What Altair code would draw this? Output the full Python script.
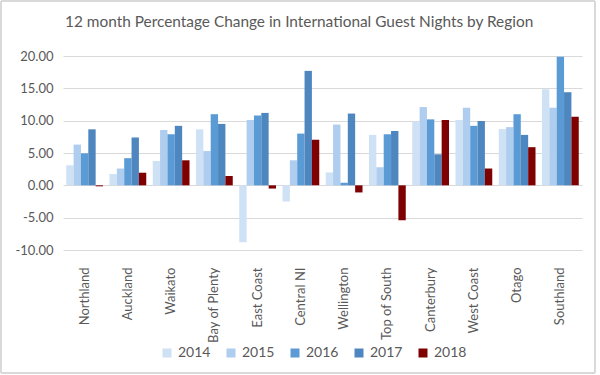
import altair as alt
import pandas as pd

regions = ["Northland", "Auckland", "Waikato", "Bay of Plenty", "East Coast", "Central NI",
           "Wellington", "Top of South", "Canterbury", "West Coast", "Otago", "Southland"]
years = ["2014", "2015", "2016", "2017", "2018"]
v2014 = [3.1, 1.75, 3.76, 8.66, -8.8, -2.5, 2.0, 7.8, 9.85, 10.1, 8.7, 14.85]
v2015 = [6.3, 2.6, 8.56, 5.3, 10.1, 3.87, 9.4, 2.8, 12.1, 12.0, 9.0, 12.0]
v2016 = [4.95, 4.2, 7.9, 11.0, 10.8, 8.0, 0.4, 7.9, 10.2, 9.2, 11.0, 19.9]
v2017 = [8.66, 7.4, 9.2, 9.5, 11.2, 17.7, 11.1, 8.4, 4.8, 9.95, 7.8, 14.4]
v2018 = [-0.15, 1.95, 3.87, 1.44, -0.5, 7.06, -1.1, -5.4, 10.1, 2.6, 5.9, 10.6]
colors = ["#cfe1f4", "#afcdee", "#5b9bd5", "#4e86bf", "#7f0000"]

rows = []
for y, vals in zip(years, [v2014, v2015, v2016, v2017, v2018]):
    for r, v in zip(regions, vals):
        rows.append({"Region": r, "Year": y, "Value": v})
df = pd.DataFrame(rows)

FONT = "Lato"
GREY = "#595959"

bars = alt.Chart(df).mark_bar().encode(
    x=alt.X("Region:N", sort=regions,
            scale=alt.Scale(paddingInner=0.15, paddingOuter=0.075),
            axis=alt.Axis(title=None, labelAngle=270, labelFontSize=13, labelColor=GREY,
                          labelFont=FONT, labelPadding=17, domain=False, ticks=False, grid=False)),
    xOffset=alt.XOffset("Year:N", sort=years, scale=alt.Scale(paddingInner=0, paddingOuter=0)),
    y=alt.Y("Value:Q", scale=alt.Scale(domain=[-10, 20], nice=False, zero=False),
            axis=alt.Axis(title=None, values=[-10, -5, 0, 5, 10, 15, 20],
                          labelExpr="replace(format(datum.value, '.2f'), '\u2212', '-')",
                          labelFontSize=13, labelColor=GREY, labelFont=FONT, labelPadding=10,
                          domain=False, ticks=False, grid=True, gridColor="#d9d9d9", gridWidth=1)),
    color=alt.Color("Year:N", sort=years, scale=alt.Scale(domain=years, range=colors),
                    legend=alt.Legend(title=None, orient="none", legendX=97, legendY=290,
                                      direction="horizontal", columns=5, symbolType="square",
                                      symbolSize=81, symbolStrokeWidth=0, labelFontSize=14,
                                      labelColor=GREY, labelFont=FONT, columnPadding=13,
                                      labelOffset=4)),
)

border = alt.Chart(df).mark_rect(fill=None, stroke="#d9d9d9", strokeWidth=1, clip=False).encode(
    x=alt.value(-62), x2=alt.value(532), y=alt.value(-55), y2=alt.value(317)
)

chart = alt.layer(border, bars).properties(
    width=519, height=194,
    autosize="none",
    padding={"left": 63, "top": 56, "right": 18, "bottom": 125},
    title=alt.TitleParams("12 month Percentage Change in International Guest Nights by Region",
                          anchor="start", frame="group", font=FONT, fontSize=15.4,
                          fontWeight="normal", color=GREY, baseline="alphabetic",
                          offset=0, dx=2, dy=42),
).configure_view(stroke=None)

chart.save("out.html", embed_options={"renderer": "svg", "actions": False})
